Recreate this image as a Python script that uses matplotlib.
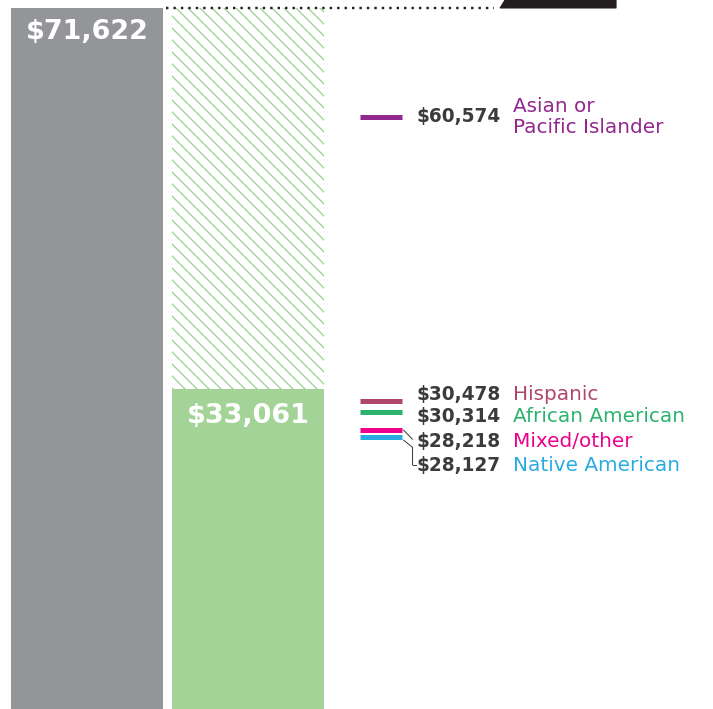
import matplotlib.pyplot as plt
from matplotlib.patches import Polygon
from matplotlib.transforms import offset_copy, blended_transform_factory

# median household income
white_income = 71622
black_income = 33061
bar_values = [white_income, black_income]
bar_labels = ['$71,622', '$33,061']

groups = ['Asian or\nPacific Islander', 'Hispanic', 'African American',
          'Mixed/other', 'Native American']
group_values = [60574, 30478, 30314, 28218, 28127]
group_labels = ['$60,574', '$30,478', '$30,314', '$28,218', '$28,127']
group_colors = ['#92278f', '#b1466c', '#2bb36d', '#ec008c', '#29abe2']
# nudges (points) so the crowded keys stay readable
swatch_nudge = [0, 13.6, 4.7, 7.2, 0.8]
text_nudge = [0, 20.5, -0.5, -4.5, -28]

GRAY = '#939598'
GREEN = '#a3d397'
INK = '#3b3b3b'

plt.rcParams['font.family'] = 'DejaVu Sans'
plt.rcParams['hatch.linewidth'] = 1.4

fig = plt.figure(figsize=(713 / 72, 709 / 72), dpi=72)
ax = fig.add_axes([0, 0, 1, 1])
ax.set_xlim(-0.540, 3.888)
ax.set_ylim(718, 72384)
ax.axis('off')

ax.bar([0, 1], bar_values, width=0.944, color=[GRAY, GREEN], linewidth=0)
# the gap up to the first bar
ax.bar(1, white_income - black_income, bottom=black_income, width=0.944,
       facecolor='none', edgecolor=GREEN, linewidth=0, hatch='\\\\')

for x, v, lab, dy in zip([0, 1], bar_values, bar_labels, [-24, -27]):
    tr = offset_copy(ax.transData, fig=fig, y=dy, units='points')
    ax.text(x, v, lab, transform=tr, ha='center', va='center',
            color='white', fontsize=27, fontweight='bold')

ax.plot([0.49, 2.53], [white_income, white_income], color='#222222', lw=2.4,
        linestyle=(0, (1, 2.1)), solid_capstyle='butt', dash_capstyle='butt')

# header tab running off the top
trx = blended_transform_factory(ax.transData, ax.transAxes)
ax.add_patch(Polygon([(2.565, 0.9887), (2.596, 1.0), (3.286, 1.0), (3.286, 0.9887)],
                     closed=True, color='#231f20', transform=trx, clip_on=False))

sw_x0, sw_x1 = 1.696, 1.957
val_x, lab_x = 2.571, 2.646
for name, v, lab, c, sn, tn in zip(groups, group_values, group_labels,
                                   group_colors, swatch_nudge, text_nudge):
    sw = offset_copy(ax.transData, fig=fig, y=sn, units='points')
    ax.plot([sw_x0, sw_x1], [v, v], color=c, lw=5, solid_capstyle='butt', transform=sw)
    tt = offset_copy(ax.transData, fig=fig, y=tn, units='points')
    ax.text(val_x, v, lab, transform=tt, ha='right', va='center',
            color=INK, fontsize=18.5, fontweight='bold')
    ax.text(lab_x, v, name, transform=tt, ha='left', va='center',
            color=c, fontsize=20, linespacing=1.1)

# leader lines for the two lowest keys
mixed = group_values[3]
native = group_values[4]
lm = [(1.966, 6.9), (2.022, -2.4)]
ln = [(1.966, -2.2), (2.022, -9.5), (2.022, -27.2), (2.046, -27.2)]
for pts, v in [(lm, mixed), (ln, native)]:
    for (xa, ya), (xb, yb) in zip(pts[:-1], pts[1:]):
        if ya == yb:
            tr = offset_copy(ax.transData, fig=fig, y=ya, units='points')
            ax.plot([xa, xb], [v, v], color=INK, lw=1, transform=tr)
        else:
            ax.annotate('', xy=(xb, v), xytext=(xa, v),
                        xycoords=offset_copy(ax.transData, fig=fig, y=yb, units='points'),
                        textcoords=offset_copy(ax.transData, fig=fig, y=ya, units='points'),
                        arrowprops=dict(arrowstyle='-', color=INK, lw=1,
                                        shrinkA=0, shrinkB=0))

fig.savefig('out.png', dpi=72)
